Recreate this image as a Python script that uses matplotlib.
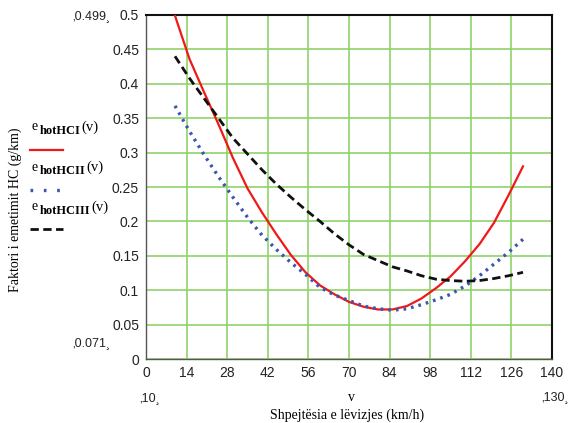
import numpy as np
import matplotlib
matplotlib.use('Agg')
import matplotlib.pyplot as plt

# speed values (km/h) and the three emission curves
v = [10, 15, 20, 25, 30, 35, 40, 45, 50, 55, 60, 65, 70,
     75, 80, 85, 90, 95, 100, 105, 110, 115, 120, 125, 130]
e_hotHCI = [0.499, 0.436, 0.388, 0.341, 0.292, 0.248, 0.213, 0.181, 0.151, 0.126,
            0.107, 0.094, 0.083, 0.076, 0.072, 0.072, 0.077, 0.088, 0.103, 0.120,
            0.142, 0.167, 0.198, 0.238, 0.280]
e_hotHCII = [0.368, 0.331, 0.297, 0.265, 0.235, 0.206, 0.180, 0.159, 0.140, 0.123,
             0.104, 0.093, 0.085, 0.077, 0.073, 0.071, 0.073, 0.079, 0.086, 0.094,
             0.106, 0.121, 0.138, 0.155, 0.174]
e_hotHCIII = [0.440, 0.408, 0.379, 0.350, 0.321, 0.298, 0.275, 0.254, 0.235, 0.217,
              0.200, 0.182, 0.166, 0.152, 0.143, 0.134, 0.128, 0.121, 0.116, 0.114,
              0.113, 0.114, 0.117, 0.121, 0.126]

xticks = [0, 14, 28, 42, 56, 70, 84, 98, 112, 126, 140]
yticks = [0, 0.05, 0.1, 0.15, 0.2, 0.25, 0.3, 0.35, 0.4, 0.45, 0.5]
ylabels = ['0', '0.05', '0.1', '0.15', '0.2', '0.25', '0.3', '0.35', '0.4', '0.45', '0.5']
subs = ['hotHCI', 'hotHCII', 'hotHCIII']

W, H = 572, 423
fig = plt.figure(figsize=(W/100, H/100), dpi=100)
ax = fig.add_axes([146/W, 1-359/H, 406/W, 344/H])

ax.plot(v, e_hotHCI, color='#f01818', lw=1.6, zorder=3)
ax.plot(v, e_hotHCII, color='#3a56b0', lw=2.4, linestyle=(0, (0.8, 1.5)), zorder=3)
ax.plot(v, e_hotHCIII, color='#111111', lw=2.0, linestyle=(0, (3, 1.6)), zorder=3)

ax.set_xlim(0, 140)
ax.set_ylim(0, 0.5)
ax.set_xticks(xticks)
ax.set_xticklabels([str(t) for t in xticks])
ax.set_yticks(yticks)
ax.set_yticklabels(ylabels)
ax.grid(True, color='#8fd36a', lw=1.2)
ax.set_axisbelow(True)
ax.tick_params(length=0, labelsize=10, pad=5)
for lab in ax.get_xticklabels() + ax.get_yticklabels():
    lab.set_family('Liberation Sans')
    lab.set_color('#222222')
for s in ['left', 'bottom']:
    ax.spines[s].set_color('#555555')
    ax.spines[s].set_linewidth(1.0)
for s in ['top', 'right']:
    ax.spines[s].set_color('#111111')
    ax.spines[s].set_linewidth(1.5)

# axis titles
fig.text(15/W, 1-210/H, 'Faktori i emetimit HC (g/km)', rotation=90,
         ha='center', va='center', family='Liberation Serif', fontsize=10)
fig.text(347/W, 1-415/H, 'Shpejtësia e lëvizjes (km/h)', ha='center', va='center',
         family='Liberation Serif', fontsize=10)
fig.text(352/W, 1-397/H, 'v', ha='center', va='center',
         family='Liberation Serif', fontsize=10)

# Mathcad range markers
mk = dict(family='Liberation Sans', fontsize=9, color='#222222', va='center')
fig.text(72/W, 1-16/H, '\u201a0.499\u00b8', ha='left', **mk)
fig.text(72/W, 1-343/H, '\u201a0.071\u00b8', ha='left', **mk)
fig.text(139/W, 1-398/H, '\u201a10\u00b8', ha='left', **mk)
fig.text(541/W, 1-397/H, '\u201a130\u00b8', ha='left', **mk)

# trace labels: e + bold subscript + (v)
renderer = fig.canvas.get_renderer()
ys = [128, 168, 208]
for sub, y in zip(subs, ys):
    fig.text(32/W, 1-(y-1)/H, 'e', ha='left', va='center', family='Liberation Serif', fontsize=10)
    t = fig.text(40/W, 1-(y+3)/H, sub, ha='left', va='center', family='Liberation Serif',
                 fontsize=9, fontweight='bold')
    x1 = t.get_window_extent(renderer).x1
    fig.text((x1 + 0.5)/W, 1-(y-1)/H, '(v)', ha='left', va='center',
             family='Liberation Serif', fontsize=10.5)
fig.add_artist(plt.Line2D([30/W, 63/W], [1-150/H, 1-150/H], color='#f01818', lw=1.6))
fig.add_artist(plt.Line2D([30/W, 63/W], [1-190/H, 1-190/H], color='#3a56b0', lw=2.4,
                          linestyle=(0, (0.8, 3.2))))
fig.add_artist(plt.Line2D([30/W, 63/W], [1-229/H, 1-229/H], color='#111111', lw=2.0,
                          linestyle=(0, (3, 1.6))))

fig.savefig('out.png', dpi=100)
